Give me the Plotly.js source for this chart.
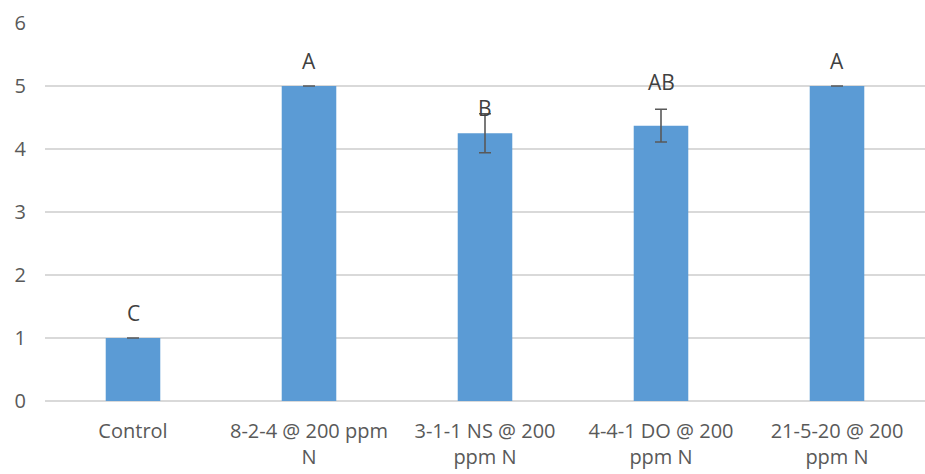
<!DOCTYPE html>
<html>
<head>
<meta charset="utf-8">
<script src="https://cdn.plot.ly/plotly-3.0.1.min.js"></script>
<style>html,body{margin:0;padding:0;background:#fff;}#chart{width:925px;height:474px;}</style>
</head>
<body>
<div id="chart"></div>
<script>
const categories = ['Control', '8-2-4 @ 200 ppm<br>N', '3-1-1 NS @ 200<br>ppm N', '4-4-1 DO @ 200<br>ppm N', '21-5-20 @ 200<br>ppm N'];
const values = [1, 5, 4.25, 4.37, 5];
const errors = [0, 0, 0.31, 0.26, 0];
const letters = ['C', 'A', 'B', 'AB', 'A'];
const yTicks = [0, 1, 2, 3, 4, 5, 6];

const trace = {
  type: 'bar',
  x: categories,
  y: values,
  marker: {color: '#5B9BD5'},
  error_y: {type: 'data', array: errors, visible: true, color: '#595959', thickness: 1.6, width: 6},
  hoverinfo: 'none'
};

const annotations = letters.map((t, i) => ({
  x: categories[i], y: values[i], xref: 'x', yref: 'y',
  text: t, showarrow: false, yanchor: 'middle',
  yshift: t === 'AB' ? 44 : 25,
  font: {family: 'Open Sans, sans-serif', size: 21, color: '#404040'}
}));

const layout = {
  width: 925, height: 474,
  margin: {l: 45, r: 0, t: 23, b: 73, pad: 0},
  paper_bgcolor: '#fff', plot_bgcolor: '#fff',
  bargap: 0.69,
  showlegend: false,
  font: {family: 'Open Sans, sans-serif', size: 20, color: '#595959'},
  xaxis: {
    type: 'category', showgrid: false, zeroline: false, showline: false,
    ticks: '', ticklabelstandoff: 16,
    tickfont: {size: 20, color: '#595959'}
  },
  yaxis: {
    range: [0, 6], tickvals: yTicks, ticktext: yTicks.map(String),
    showgrid: true, gridcolor: '#D9D9D9', gridwidth: 1.3,
    zeroline: true, zerolinecolor: '#D9D9D9', zerolinewidth: 1.3,
    showline: false, ticks: '', ticklabelstandoff: 18,
    tickfont: {size: 20, color: '#595959'}
  },
  annotations: annotations
};

Plotly.newPlot('chart', [trace], layout, {displayModeBar: false, staticPlot: true});
</script>
</body>
</html>
